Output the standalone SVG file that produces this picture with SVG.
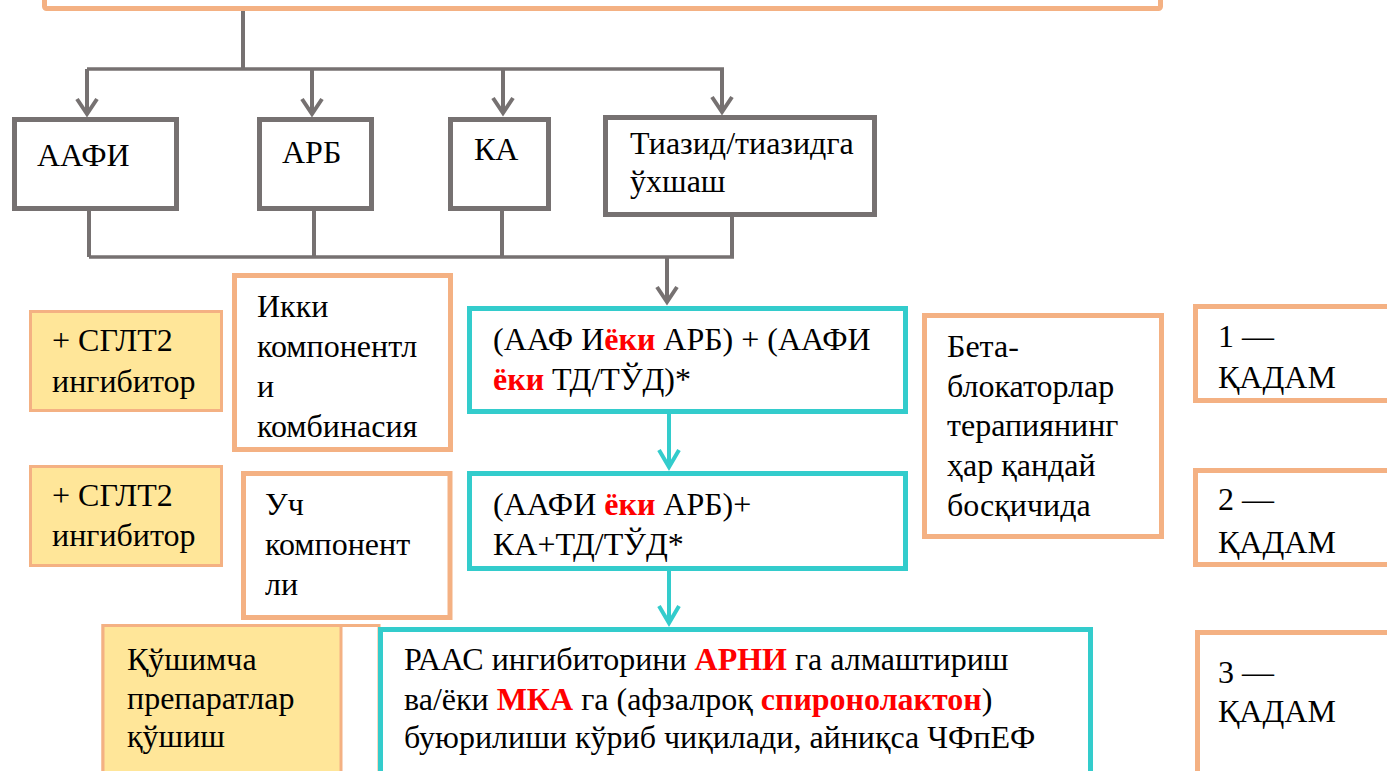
<svg xmlns="http://www.w3.org/2000/svg" width="1387" height="771" viewBox="0 0 1387 771">
<defs>
<style>
text{font-family:'Liberation Serif','Times New Roman',serif;font-size:32px;fill:#000}
.r{fill:#FF0000;font-weight:bold}
.gray{fill:#fff;stroke:#767171;stroke-width:5}
.org{fill:#fff;stroke:#F4B183;stroke-width:5}
.yel{fill:#FFE699;stroke:#F4B183;stroke-width:3}
.cy{fill:#fff;stroke:#33CCCC;stroke-width:5}
.gl{fill:none;stroke:#767171;stroke-width:4}
.gh{fill:none;stroke:#767171;stroke-width:3.5}
.cl{fill:none;stroke:#33CCCC;stroke-width:4}
</style>
<marker id="ag" markerUnits="userSpaceOnUse" viewBox="-20 -14 24 28" markerWidth="24" markerHeight="28" refX="0" refY="0" orient="auto" overflow="visible">
<path d="M-15,-10 L0,0 L-15,10" fill="none" stroke="#767171" stroke-width="4"/>
</marker>
<marker id="ac" markerUnits="userSpaceOnUse" viewBox="-20 -14 24 28" markerWidth="24" markerHeight="28" refX="0" refY="0" orient="auto" overflow="visible">
<path d="M-17,-10 L0,0 L-17,10" fill="none" stroke="#33CCCC" stroke-width="4"/>
</marker>
</defs>
<g font-family="Liberation Serif, serif">

<g id="top-box"><rect class="org" x="44.5" y="-30" width="1116" height="38.5" rx="2"/></g>

<g id="connectors">
<path class="gl" d="M243,11 V69"/>
<path class="gh" d="M87,69 H724"/>
<path class="gl" d="M87,69 V114" marker-end="url(#ag)"/>
<path class="gl" d="M312,69 V114" marker-end="url(#ag)"/>
<path class="gl" d="M503,69 V113" marker-end="url(#ag)"/>
<path class="gl" d="M722,69 V112" marker-end="url(#ag)"/>
<path class="gl" d="M89,204 V257"/>
<path class="gl" d="M314,204 V257"/>
<path class="gl" d="M502,204 V257"/>
<path class="gl" d="M732,215 V257"/>
<path class="gh" d="M89,257 H734"/>
<path class="gl" d="M667,257 V302" marker-end="url(#ag)"/>
<path class="cl" d="M669,413 V467" marker-end="url(#ac)"/>
<path class="cl" d="M669,570 V623" marker-end="url(#ac)"/>
</g>

<g id="n-aafi"><rect class="gray" x="14.5" y="119.5" width="162" height="89"/><text x="37" y="166">ААФИ</text></g>
<g id="n-arb"><rect class="gray" x="259.5" y="119.5" width="112" height="89"/><text x="282" y="163">АРБ</text></g>
<g id="n-ka"><rect class="gray" x="450.5" y="119.5" width="98" height="89"/><text x="474" y="160">КА</text></g>
<g id="n-tiazid"><rect class="gray" x="605.5" y="117.5" width="269" height="97"/><text x="630" y="154">Тиазид/тиазидга</text><text x="630" y="192">ўхшаш</text></g>

<g id="n-sglt1"><rect class="yel" x="30.5" y="311.5" width="191" height="99"/><text x="52" y="351">+ СГЛТ2</text><text x="52" y="392">ингибитор</text></g>
<g id="n-sglt2"><rect class="yel" x="30.5" y="466.5" width="191" height="99"/><text x="52" y="506">+ СГЛТ2</text><text x="52" y="546">ингибитор</text></g>

<g id="n-ikki"><rect class="org" x="234.5" y="275.5" width="216" height="174"/>
<text x="257" y="317">Икки</text><text x="257" y="357">компонентл</text><text x="257" y="397">и</text><text x="257" y="437">комбинасия</text></g>
<g id="n-uch"><rect class="org" x="243.5" y="473.5" width="206.5" height="144"/>
<text x="265" y="515">Уч</text><text x="265" y="555">компонент</text><text x="265" y="595">ли</text></g>

<g id="n-step1box"><rect class="cy" x="469.5" y="308.5" width="436" height="103"/>
<text x="493" y="350">(ААФ И<tspan class="r">ёки</tspan> АРБ) + (ААФИ</text>
<text x="493" y="390"><tspan class="r">ёки</tspan> ТД/ТЎД)*</text></g>
<g id="n-step2box"><rect class="cy" x="469.5" y="473.5" width="436" height="95"/>
<text x="493" y="515">(ААФИ <tspan class="r">ёки</tspan> АРБ)+</text>
<text x="493" y="555">КА+ТД/ТЎД*</text></g>

<g id="n-qushimcha"><rect class="org" x="103" y="625.5" width="276" height="200" style="stroke-width:3"/><rect class="yel" x="103" y="625.5" width="238" height="200"/>
<text x="127" y="670">Қўшимча</text><text x="127" y="709">препаратлар</text><text x="127" y="747">қўшиш</text></g>
<g id="n-step3box"><rect class="cy" x="380.5" y="629.5" width="710" height="200"/>
<text x="404" y="670">РААС ингибиторини <tspan class="r">АРНИ</tspan> га алмаштириш</text>
<text x="404" y="710">ва/ёки <tspan class="r">МКА</tspan> га (афзалроқ <tspan class="r">спиронолактон</tspan>)</text>
<text x="404" y="748">буюрилиши кўриб чиқилади, айниқса ЧФпЕФ</text></g>

<g id="n-beta"><rect class="org" x="924.5" y="315.5" width="237" height="221"/>
<text x="947" y="357">Бета-</text><text x="947" y="397">блокаторлар</text><text x="947" y="436">терапиянинг</text><text x="947" y="476">ҳар қандай</text><text x="947" y="516">босқичида</text></g>

<g id="n-kadam1"><rect class="org" x="1195.5" y="306.5" width="250" height="94"/><text x="1218" y="347">1 —</text><text x="1218" y="388">ҚАДАМ</text></g>
<g id="n-kadam2"><rect class="org" x="1195.5" y="470.5" width="250" height="94"/><text x="1218" y="510">2 —</text><text x="1218" y="553">ҚАДАМ</text></g>
<g id="n-kadam3"><rect class="org" x="1197.5" y="632.5" width="250" height="200"/><text x="1218" y="683">3 —</text><text x="1218" y="722">ҚАДАМ</text></g>
</g>
</svg>
